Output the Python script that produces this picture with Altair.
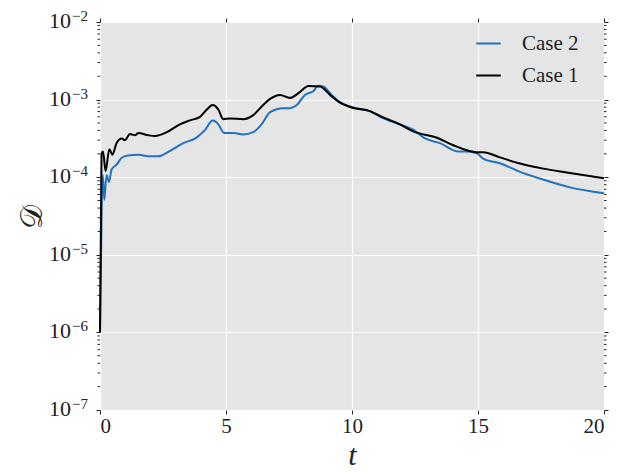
import altair as alt
import pandas as pd

# Case 1 (black)
t_case1 = [0, 0.06, 0.12, 0.22, 0.37, 0.49, 0.66, 0.86, 0.99, 1.19, 1.39, 1.52, 1.92, 2.18, 2.65,
           3.17, 3.57, 3.97, 4.23, 4.47, 4.70, 4.89, 5.16, 5.69, 6.08, 6.41, 6.75, 7.14, 7.54, 7.94,
           8.27, 8.73, 9.13, 9.46, 9.99, 10.71, 11.24, 11.9, 12.43, 13.4, 14.0, 14.95, 15.2, 15.87,
           16.67, 17.59, 18.52, 20.0]
d_case1 = [1e-6, 2.0e-4, 2.15e-4, 1.2e-4, 2.3e-4, 1.95e-4, 2.76e-4, 3.15e-4, 3.0e-4, 3.6e-4, 3.47e-4,
           3.7e-4, 3.47e-4, 3.4e-4, 3.8e-4, 4.8e-4, 5.4e-4, 6.0e-4, 7.4e-4, 8.5e-4, 7.4e-4, 5.6e-4,
           5.7e-4, 5.6e-4, 6.3e-4, 8.1e-4, 1.02e-3, 1.15e-3, 1.05e-3, 1.26e-3, 1.5e-3, 1.48e-3,
           1.15e-3, 9.4e-4, 7.9e-4, 7.1e-4, 5.9e-4, 4.8e-4, 3.9e-4, 3.2e-4, 2.6e-4, 2.1e-4, 2.1e-4,
           1.8e-4, 1.5e-4, 1.29e-4, 1.15e-4, 9.7e-5]

# Case 2 (blue)
t_case2 = [0, 0.08, 0.11, 0.17, 0.26, 0.36, 0.46, 0.66, 0.86, 1.12, 1.52, 1.92, 2.31, 2.78, 3.31,
           3.83, 4.17, 4.47, 4.70, 4.92, 5.29, 5.69, 6.08, 6.41, 6.75, 7.27, 7.54, 7.81, 8.13, 8.47,
           8.66, 8.86, 9.19, 9.52, 10.05, 10.71, 11.11, 11.9, 12.43, 12.9, 13.49, 14.22, 14.55,
           14.95, 15.2, 15.87, 16.67, 17.59, 18.65, 20.0]
d_case2 = [1e-6, 7.9e-5, 1.07e-4, 5.1e-5, 1.07e-4, 8.7e-5, 1.26e-4, 1.45e-4, 1.78e-4, 1.9e-4, 1.95e-4,
           1.86e-4, 1.86e-4, 2.19e-4, 2.75e-4, 3.24e-4, 4.07e-4, 5.37e-4, 4.79e-4, 3.72e-4, 3.72e-4,
           3.55e-4, 3.8e-4, 4.79e-4, 6.9e-4, 7.76e-4, 7.76e-4, 8.5e-4, 1.15e-3, 1.29e-3, 1.51e-3,
           1.48e-3, 1.15e-3, 9.3e-4, 7.9e-4, 7.1e-4, 6.0e-4, 4.8e-4, 4.1e-4, 3.16e-4, 2.75e-4,
           2.14e-4, 2.14e-4, 2.04e-4, 1.74e-4, 1.51e-4, 1.17e-4, 9.3e-5, 7.4e-5, 6.2e-5]

series_names = ["Case 2", "Case 1"]
series_colors = ["#2372bd", "#000000"]
x_ticks = [0, 5, 10, 15, 20]
y_ticks = [1e-7, 1e-6, 1e-5, 1e-4, 1e-3, 1e-2]
y_tick_base = ["10", "10", "10", "10", "10", "10"]
y_tick_exp = ["−7", "−6", "−5", "−4", "−3", "−2"]
minor_ticks = [k * 10.0 ** e for e in range(-7, -2) for k in range(2, 10)]

df = pd.concat([
    pd.DataFrame({"t": t_case2, "D": d_case2, "case": "Case 2", "order": 0}),
    pd.DataFrame({"t": t_case1, "D": d_case1, "case": "Case 1", "order": 1}),
])
minor_df = pd.DataFrame({"m": minor_ticks})
ylab_df = pd.DataFrame({"v": y_ticks, "base": y_tick_base, "exp": y_tick_exp})

W, H = 504, 388
FONT = "Liberation Serif"
INK = "#222222"

xscale = alt.Scale(domain=[0, 20], nice=False, zero=False)
yscale = alt.Scale(type="log", domain=[1e-7, 1e-2], nice=False)

lines = alt.Chart(df).mark_line(strokeWidth=2, interpolate="monotone").encode(
    x=alt.X("t:Q", scale=xscale,
            axis=alt.Axis(values=x_ticks, title="t", titleFontStyle="italic", titleFontSize=30,
                          titleFontWeight="normal", titleFont=FONT, titlePadding=4,
                          titleColor=INK,
                          labelFont=FONT, labelFontSize=21, labelPadding=1, labelColor=INK,
                          grid=True, gridColor="white", gridWidth=1.2, tickSize=4,
                          tickColor=INK, domain=False)),
    y=alt.Y("D:Q", scale=yscale,
            axis=alt.Axis(values=y_ticks, labels=False, title="𝒟", titleFontSize=30,
                          titleFontWeight="normal", titleFont=FONT, titlePadding=48,
                          titleColor=INK,
                          grid=True, gridColor="white", gridWidth=1.2, tickSize=4,
                          tickColor=INK, domain=False)),
    color=alt.Color("case:N", scale=alt.Scale(domain=series_names, range=series_colors),
                    legend=alt.Legend(title=None, orient="none", legendX=375, legendY=8,
                                      labelFont=FONT, labelFontSize=21, labelColor=INK,
                                      symbolType="stroke", symbolStrokeWidth=2, symbolSize=600,
                                      rowPadding=8, labelOffset=20)),
    order=alt.Order("order:Q"),
)

ghost = alt.Chart(df).mark_line(opacity=0).encode(
    x=alt.X("t:Q", scale=xscale,
            axis=alt.Axis(values=x_ticks, orient="top", labels=False, title=None, grid=False,
                          tickSize=4, tickColor=INK, domain=False)),
    y=alt.Y("D:Q", scale=yscale,
            axis=alt.Axis(values=y_ticks, orient="right", labels=False, title=None, grid=False,
                          tickSize=4, tickColor=INK, domain=False)),
)

minor_left = alt.Chart(minor_df).mark_rule(color=INK, strokeWidth=1).encode(
    y=alt.Y("m:Q", scale=yscale, axis=None),
    x=alt.value(-2.5), x2=alt.value(0),
)
minor_right = alt.Chart(minor_df).mark_rule(color=INK, strokeWidth=1).encode(
    y=alt.Y("m:Q", scale=yscale, axis=None),
    x=alt.value(W), x2=alt.value(W + 2.5),
)

base_labels = alt.Chart(ylab_df).mark_text(
    font=FONT, fontSize=22, color=INK, align="right", baseline="middle", dy=-1
).encode(
    y=alt.Y("v:Q", scale=yscale, axis=None),
    x=alt.value(-29),
    text="base:N",
)
exp_labels = alt.Chart(ylab_df).mark_text(
    font=FONT, fontSize=15, color=INK, align="left", baseline="middle", dy=-6
).encode(
    y=alt.Y("v:Q", scale=yscale, axis=None),
    x=alt.value(-28),
    text="exp:N",
)

chart = alt.layer(lines, ghost, minor_left, minor_right, base_labels, exp_labels).resolve_axis(
    x="independent", y="independent"
).properties(
    width=W, height=H,
    autosize=alt.AutoSizeParams(type="none"),
    padding={"left": 92, "top": 14, "right": 16, "bottom": 60},
).configure_view(fill="#E5E5E5", stroke=None)

chart.save("out.html", embed_options={"renderer": "svg", "actions": False})
